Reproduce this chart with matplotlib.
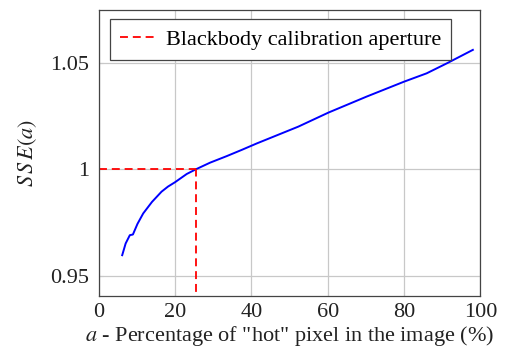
import matplotlib.pyplot as plt

plt.rcParams['font.family'] = ['Liberation Serif', 'DejaVu Serif']
plt.rcParams['mathtext.fontset'] = 'stix'

# SSE curve
a_pct = [6.2, 7.1, 8.2, 9.0, 10.2, 11.7, 14.0, 16.5, 18.2, 20.0, 23.1, 25.5,
         29.2, 33.6, 37.5, 41.4, 52.3, 60.2, 70.2, 80.0, 85.9, 91.2, 98.0]
sse = [0.9598, 0.9653, 0.9692, 0.9695, 0.9745, 0.9794, 0.9848, 0.9896, 0.9920,
       0.9940, 0.9979, 1.0001, 1.0032, 1.0063, 1.0092, 1.0122, 1.0201, 1.0267,
       1.0342, 1.0412, 1.0451, 1.0498, 1.0561]

aperture_a = 25.5
aperture_sse = 1.0
x_ticks = [0, 20, 40, 60, 80, 100]
y_ticks = [0.95, 1.0, 1.05]
y_tick_labels = ['0.95', '1', '1.05']

fig = plt.figure(figsize=(5.06, 3.55), dpi=100)
ax = fig.add_axes([0.1947, 0.167, 0.9496 - 0.1947, 0.9718 - 0.167])

dash = (0, (4.4, 2.7))
ax.plot(a_pct, sse, color='blue', lw=1.4)
ax.plot([0, aperture_a], [aperture_sse, aperture_sse], color='red', lw=1.3,
        ls=dash, label='Blackbody calibration aperture')
ax.plot([aperture_a, aperture_a], [0.9, aperture_sse], color='red', lw=1.3,
        ls=dash)

ax.set_xlim(0, 100)
ax.set_ylim(0.9408, 1.0748)
ax.set_xticks(x_ticks)
ax.set_yticks(y_ticks)
ax.set_yticklabels(y_tick_labels)
ax.grid(True, color='#c8c8c8', lw=0.9)
ax.set_axisbelow(True)
ax.tick_params(direction='in', length=3, color='#c8c8c8', labelsize=16,
               labelcolor='#222222')
ax.tick_params(axis='x', pad=5)
ax.tick_params(axis='y', pad=7)
for s in ax.spines.values():
    s.set_color('#444444')
    s.set_linewidth(0.9)

ax.set_xlabel(r'$a$ - Percentage of "hot" pixel in the image (%)', fontsize=16,
              color='#222222', labelpad=2)
ax.set_ylabel(r'$S\,S\,E(a)$', fontsize=16, color='#222222', labelpad=8)

leg = ax.legend(loc='upper left', fontsize=16, fancybox=False, framealpha=1,
                edgecolor='#444444', borderpad=0.45, handlelength=1.6,
                handletextpad=0.45, borderaxespad=0,
                bbox_to_anchor=(0.03, 0.9675))
leg.get_frame().set_linewidth(0.9)

fig.savefig('out.png', dpi=100)
